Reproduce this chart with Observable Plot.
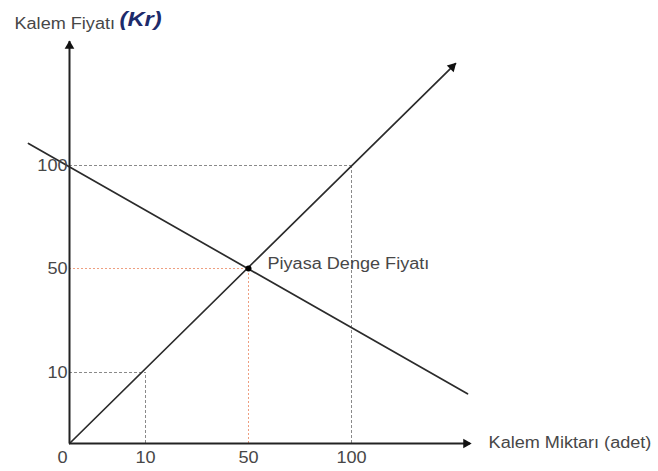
<!DOCTYPE html>
<html><head><meta charset="utf-8">
<script src="https://cdn.jsdelivr.net/npm/d3@7"></script>
<script src="https://cdn.jsdelivr.net/npm/@observablehq/plot@0.6"></script>
<style>body{margin:0;background:#fff} svg{display:block}</style>
</head><body><script>
// scale break values (non-uniform spacing in the original drawing)
const scaleBreaks = [0, 10, 50, 100];
// tick labels
const yTickLabels = [10, 50, 100];
const xTickLabels = [10, 50, 100];
// supply line (quantity, price), ends at the arrow head
const supplyQ = [0, 150.5];
const supplyP = [0, 149.5];
// demand line
const demandQ = [-5.4, 156.3];
const demandP = [110.7, 7.0];
// equilibrium
const eqQ = [50];
const eqP = [50];
const eqLabel = ["Piyasa Denge Fiyatı"];
// guide lines
const grayGuides = [10, 100];
const redGuides = [50];
// axis extents (arrow tips)
const xAxisEnd = 157.8;
const yAxisEnd = 160.2;
const xTitle = "Kalem Miktarı (adet)";
const yTitle = "Kalem Fiyatı";
const yUnit = "(Kr)";

const supply = supplyQ.map((q, i) => ({q, p: supplyP[i]}));
const demand = demandQ.map((q, i) => ({q, p: demandP[i]}));
const eq = eqQ.map((q, i) => ({q, p: eqP[i], label: eqLabel[i]}));

const font = "Liberation Sans, Arial, sans-serif";
const txt = "#474747";
const ink = "#2b2b2b";

const chart = Plot.plot({
  width: 658,
  height: 471,
  margin: 0,
  style: {background: "#fff", fontFamily: font},
  x: {type: "linear", domain: scaleBreaks, range: [69, 145, 248, 351], axis: null},
  y: {type: "linear", domain: scaleBreaks, range: [443, 372, 268, 165], axis: null},
  marks: [
    // gray dashed guides
    Plot.ruleY(grayGuides, {y: d => d, x1: 0, x2: d => d, stroke: "#8a8a8a", strokeWidth: 1, strokeDasharray: "3,2"}),
    Plot.ruleX(grayGuides, {x: d => d, y1: 0, y2: d => d, stroke: "#8a8a8a", strokeWidth: 1, strokeDasharray: "3,2"}),
    // orange dotted guides
    Plot.ruleY(redGuides, {y: d => d, x1: 0, x2: d => d, stroke: "#ee9f80", strokeWidth: 1, strokeDasharray: "2,2"}),
    Plot.ruleX(redGuides, {x: d => d, y1: 0, y2: d => d, stroke: "#ee9f80", strokeWidth: 1, strokeDasharray: "2,2"}),
    // demand and supply
    Plot.line(demand, {x: "q", y: "p", stroke: ink, strokeWidth: 1.7}),
    Plot.line(supply, {x: "q", y: "p", stroke: ink, strokeWidth: 1.7}),
    Plot.dot([supply[1]], {x: "q", y: "p", symbol: "triangle", r: 3.6, fill: "#111", stroke: "none", rotate: 45, dx: -3.3, dy: 3.3}),
    // axes
    Plot.ruleY([0], {x1: 0, x2: xAxisEnd, stroke: "#222", strokeWidth: 2}),
    Plot.ruleX([0], {y1: 0, y2: yAxisEnd, stroke: "#222", strokeWidth: 2}),
    Plot.dot([yAxisEnd], {x: 0, y: d => d, symbol: "triangle", r: 3.6, fill: "#111", stroke: "none", dy: 4.5}),
    Plot.dot([xAxisEnd], {x: d => d, y: 0, symbol: "triangle", r: 3.6, fill: "#111", stroke: "none", rotate: 90, dx: -4.5}),
    // equilibrium point
    Plot.dot(eq, {x: "q", y: "p", r: 3, fill: "#000", stroke: "none"}),
    Plot.text(eq, {x: "q", y: "p", text: "label", textAnchor: "start", dx: 19, dy: -5, fontSize: 16, fill: txt}),
    // tick labels
    Plot.text(yTickLabels, {x: 0, y: d => d, text: d => String(d), textAnchor: "end", dx: -2, fontSize: 16, fill: txt}),
    Plot.text(xTickLabels, {x: d => d, y: 0, text: d => String(d), dy: 14, fontSize: 16, fill: txt}),
    Plot.text([0], {x: 0, y: 0, text: d => String(d), dx: -7, dy: 14, fontSize: 16, fill: txt}),
    // axis titles
    Plot.text([xTitle], {x: xAxisEnd, y: 0, text: d => d, textAnchor: "start", dx: 18, dy: -1, fontSize: 16, fill: txt}),
    Plot.text([yTitle], {frameAnchor: "top-left", text: d => d, textAnchor: "start", lineAnchor: "middle", dx: 14, dy: 23, fontSize: 16, fill: txt}),
    Plot.text([yUnit], {frameAnchor: "top-left", text: d => d, textAnchor: "start", lineAnchor: "middle", dx: 119, dy: 19, fontSize: 21, fontWeight: "bold", fontStyle: "italic", fill: "#1d2b6b"})
  ]
});
document.body.append(chart);
// the original lettering is horizontally stretched
chart.querySelectorAll("text").forEach(t => {
  const w = t.getComputedTextLength();
  if (w > 0) { t.setAttribute("textLength", (w * 1.13).toFixed(1)); t.setAttribute("lengthAdjust", "spacingAndGlyphs"); }
});
</script></body></html>
